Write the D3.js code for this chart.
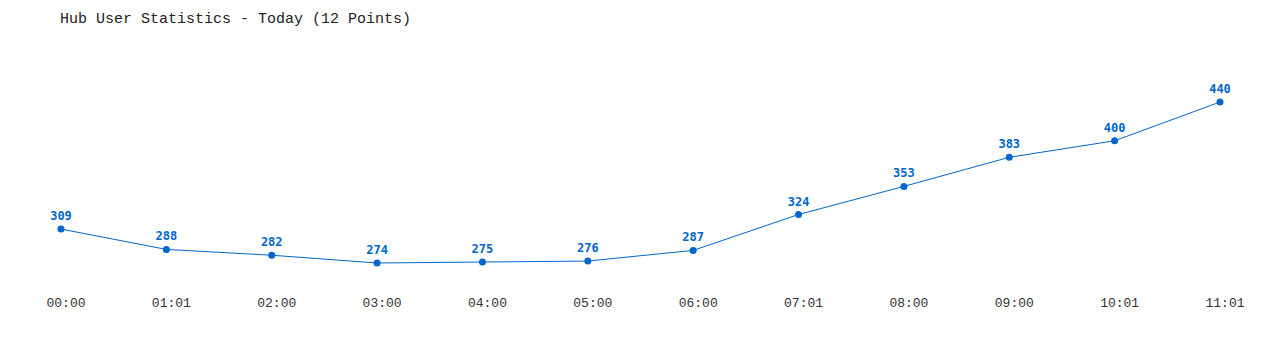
<!DOCTYPE html>
<html>
<head>
<meta charset="utf-8">
<script src="https://cdn.jsdelivr.net/npm/d3@7"></script>
<style>
  body { margin: 0; background: #fff; }
  svg { display: block; }
</style>
</head>
<body>
<div id="chart"></div>
<script>
var times = ["00:00", "01:01", "02:00", "03:00", "04:00", "05:00", "06:00", "07:01", "08:00", "09:00", "10:01", "11:01"];
var users = [309, 288, 282, 274, 275, 276, 287, 324, 353, 383, 400, 440];
var title = "Hub User Statistics - Today (12 Points)";

document.addEventListener("DOMContentLoaded", function() {
    var width = 1280;
    var height = 350;
    var blue = "#0066cc";

    var svg = d3.select("#chart")
        .append("svg")
        .attr("width", width)
        .attr("height", height);

    svg.append("text")
        .attr("x", 60)
        .attr("y", 23)
        .style("font-family", "'Liberation Mono', 'DejaVu Sans Mono', monospace")
        .style("font-size", "15px")
        .style("fill", "#222")
        .text(title);

    var x = d3.scalePoint()
        .domain(times)
        .range([61, 1220]);

    var y = d3.scaleLinear()
        .domain([274, 440])
        .range([263, 102]);

    // labels sit a few px right of their points in the original
    var axis = svg.append("g")
        .attr("transform", "translate(4.5,298)")
        .call(d3.axisBottom(x).tickSize(0).tickPadding(0));
    axis.select(".domain").remove();
    axis.selectAll("text")
        .attr("dy", "0.71em")
        .style("font-family", "'Liberation Mono', 'DejaVu Sans Mono', monospace")
        .style("font-size", "13px")
        .style("fill", "#333");

    var line = d3.line()
        .x(function(d, i) { return x(times[i]); })
        .y(function(d) { return y(d); });

    svg.append("path")
        .datum(users)
        .attr("d", line)
        .attr("fill", "none")
        .attr("stroke", blue)
        .attr("stroke-width", 1);

    svg.selectAll("circle")
        .data(users)
        .enter().append("circle")
        .attr("cx", function(d, i) { return x(times[i]); })
        .attr("cy", function(d) { return y(d); })
        .attr("r", 3.5)
        .attr("fill", blue);

    svg.selectAll("text.val")
        .data(users)
        .enter().append("text")
        .attr("class", "val")
        .attr("x", function(d, i) { return x(times[i]); })
        .attr("y", function(d) { return y(d) - 9; })
        .attr("text-anchor", "middle")
        .style("font-family", "'DejaVu Sans Mono', monospace")
        .style("font-weight", "bold")
        .style("font-size", "12px")
        .style("fill", blue)
        .text(function(d) { return d; });
});
</script>
</body>
</html>
